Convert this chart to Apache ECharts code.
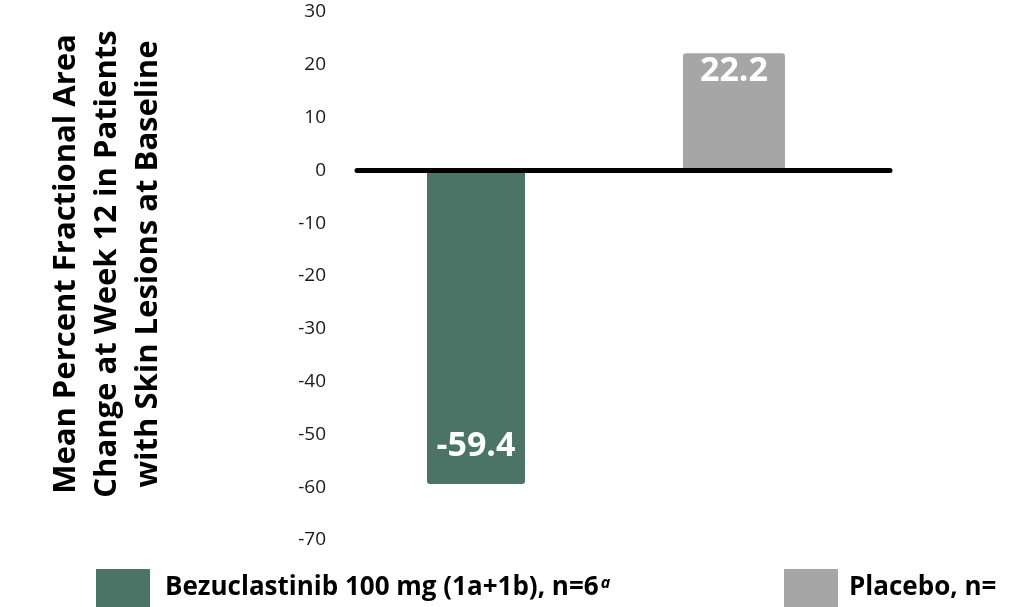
<!DOCTYPE html>
<html>
<head>
<meta charset="utf-8">
<script src="https://cdn.jsdelivr.net/npm/echarts@6/dist/echarts.min.js"></script>
<style>
html,body{margin:0;padding:0;background:#fff;}
#c{width:1014px;height:607px;}
</style>
</head>
<body>
<div id="c"></div>
<script>
const categories = ['Bezuclastinib', 'Placebo'];
const seriesNames = ['Bezuclastinib 100 mg (1a+1b), n=6', 'Placebo, n='];
const bezuValues = [-59.4, '-'];
const placeboValues = ['-', 22.2];
const yTicks = { min: -70, max: 30, interval: 10 };
const yTitle = ['Mean Percent Fractional Area', 'Change at Week 12 in Patients', 'with Skin Lesions at Baseline'];

const FONT = 'Open Sans';
const GREEN = '#4b7466';
const GREY = '#a6a6a6';

const chart = echarts.init(document.getElementById('c'));
chart.setOption({
  animation: false,
  textStyle: { fontFamily: FONT },
  grid: [
    { left: 357, right: 124, top: 12, bottom: 67 },
    { left: 350, width: 512, top: 12, bottom: 67 }
  ],
  legend: [
    {
      data: [seriesNames[0]], left: 96, top: 569, padding: 0, itemWidth: 54, itemHeight: 38,
      icon: 'rect',
      formatter: n => n + '{s|a}',
      textStyle: { fontSize: 26, fontWeight: 'bold', color: '#000', padding: [0, 0, 0, 10],
        rich: { s: { fontSize: 16, fontStyle: 'italic', fontWeight: 'bold', verticalAlign: 'top', padding: [0, 0, 10, 2] } } }
    },
    {
      data: [seriesNames[1]], left: 784, top: 569, padding: 0, itemWidth: 54, itemHeight: 38,
      icon: 'rect',
      textStyle: { fontSize: 26, fontWeight: 'bold', color: '#000', padding: [0, 0, 0, 6] }
    }
  ],
  xAxis: [
    { type: 'category', gridIndex: 0, data: categories, z: 5,
      axisLine: { onZero: true, lineStyle: { color: '#000', width: 5 } },
      axisTick: { show: false }, axisLabel: { show: false } },
    { type: 'category', gridIndex: 1, data: categories, show: false }
  ],
  yAxis: [
    { type: 'value', gridIndex: 0, min: yTicks.min, max: yTicks.max, interval: yTicks.interval,
      axisLine: { show: false }, axisTick: { show: false }, splitLine: { show: false },
      axisLabel: { fontSize: 19, color: '#1a1a1a', margin: 31 },
      name: yTitle.join('\n'), nameLocation: 'middle', nameGap: 188,
      nameTextStyle: { fontSize: 31, fontWeight: 'bold', color: '#000', lineHeight: 41, padding: [0, 0, 0, 24] } },
    { type: 'value', gridIndex: 1, min: yTicks.min, max: yTicks.max, interval: yTicks.interval, show: false }
  ],
  series: [
    { name: seriesNames[0], type: 'bar', xAxisIndex: 1, yAxisIndex: 1, data: bezuValues,
      barWidth: 98, barGap: '-100%',
      itemStyle: { color: GREEN, borderRadius: 3 },
      label: { show: true, position: 'insideBottom', distance: 21, color: '#fff', fontSize: 34, fontWeight: 'bold' } },
    { name: seriesNames[1], type: 'bar', xAxisIndex: 1, yAxisIndex: 1, data: placeboValues,
      barWidth: 102, barGap: '-100%',
      itemStyle: { color: GREY, borderRadius: 3 },
      label: { show: true, position: 'insideTop', distance: 1, color: '#fff', fontSize: 34, fontWeight: 'bold' } }
  ]
});
</script>
</body>
</html>
